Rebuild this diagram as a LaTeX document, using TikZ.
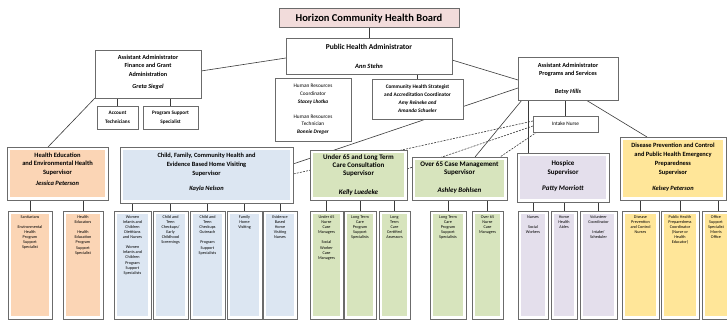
\documentclass[tikz,border=0pt]{standalone}
\usepackage{fontspec}
\setmainfont{Carlito}
\usetikzlibrary{calc}
\definecolor{bord}{HTML}{6B6B6B}
\definecolor{lnc}{HTML}{3A3A3A}
\definecolor{pinkF}{HTML}{F2DCDB}
\definecolor{oranF}{HTML}{FBD5B5}
\definecolor{blueF}{HTML}{DCE6F2}
\definecolor{greenF}{HTML}{D7E4BD}
\definecolor{lavF}{HTML}{E4DFEC}
\definecolor{yellF}{HTML}{FFE699}
\pgfdeclarelayer{back}
\pgfdeclarelayer{bg}
\pgfsetlayers{back,bg,main}
\newcommand\fsz[2]{\fontsize{#1}{#2}\selectfont}
\newcommand\mkbox[6]{\node[#6, anchor=north west, minimum width={#4pt-#2pt}, minimum height={#5pt-#3pt}] (#1) at (#2,#3) {};}
\newcommand\mktxt[5]{\node[txt, anchor=north, font=#4] (#1) at (#2,#3) {#5};}
\tikzset{
 frame/.style={draw=bord, line width=0.8pt, fill=white, inner sep=0pt, outer sep=0pt},
 inset/.style={frame, path picture={\fill[#1] ([xshift=3pt,yshift=-3pt]path picture bounding box.north west) rectangle ([xshift=-3pt,yshift=3pt]path picture bounding box.south east);}},
 conn/.style={draw=lnc, line width=0.6pt},
 dconn/.style={conn, dash pattern=on 2pt off 1.2pt},
 txt/.style={inner sep=0pt, align=center, text=black},
 ctext/.style={txt, font=\fsz{4.2}{5.1}},
}
\begin{document}
\begin{tikzpicture}[x=1pt,y=-1pt]
\useasboundingbox (0,0) rectangle (727,320);
\begin{pgfonlayer}{back}
\fill[white] (0,0) rectangle (727,320);
\end{pgfonlayer}
% ---------- top level ----------
\mkbox{board}{279}{8}{459}{27}{frame, fill=pinkF}
\node[txt, anchor=base, font=\fsz{10.5}{12}\bfseries] (boardT) at (369,21.5) {Horizon Community Health Board};
\mkbox{pha}{286}{38}{452}{74}{frame}
\node[txt, anchor=base, font=\fsz{7.5}{9}\bfseries] (phaT) at (369,49.5) {Public Health Administrator};
\node[txt, anchor=base, font=\fsz{6.5}{8}\bfseries\itshape] (phaN) at (369,68.5) {Ann Stehn};
\mkbox{fin}{95}{50}{201}{98}{frame}
\mktxt{finT}{148}{54.5}{\fsz{6.2}{8.7}\bfseries}{Assistant Administrator\\Finance and Grant\\Administration\\[3.3pt]\textit{Greta Siegel}}
\mkbox{acct}{97}{106}{138}{129}{frame}
\mktxt{acctT}{117.5}{111}{\fsz{5.2}{8.5}\bfseries}{Account\\Technicians}
\mkbox{pss}{143}{106}{198}{129}{frame}
\mktxt{pssT}{170.5}{111}{\fsz{5.2}{8.5}\bfseries}{Program Support\\Specialist}
\mkbox{hr}{275}{78}{351}{141}{frame}
\mktxt{hrT}{313}{84}{\fsz{5.3}{7.8}}{Human Resources\\Coordinator\\\textbf{\textit{Stacey Lhotka}}\\[7.2pt]Human Resources\\Technician\\\textbf{\textit{Bonnie Dreger}}}
\mkbox{chs}{372}{79}{463}{119}{frame}
\mktxt{chsT}{417.5}{85}{\fsz{5.3}{7.7}\bfseries}{Community Health Strategist\\and Accreditation Coordinator\\\textit{Amy Reineke and}\\\textit{Amanda Schueler}}
\mkbox{betsy}{518}{57}{618}{100}{frame}
\mktxt{betsyT}{568}{62.5}{\fsz{6.2}{8.3}\bfseries}{Assistant Administrator\\Programs and Services\\[9.7pt]\textit{Betsy Hills}}
\mkbox{intake}{533}{116}{598}{132}{frame}
\node[txt, anchor=base, font=\fsz{5.3}{6}] (intakeT) at (565.5,125.8) {Intake Nurse};
% ---------- supervisors ----------
\mkbox{he}{7}{147}{108}{200}{inset=oranF}
\mktxt{heT}{57.5}{152.4}{\fsz{6.5}{8.5}\bfseries}{Health Education\\and Environmental Health\\Supervisor\\[2.5pt]\textit{Jessica Peterson}}
\mkbox{cf}{120}{147}{293}{203}{inset=blueF}
\mktxt{cfT}{206.5}{152.5}{\fsz{6.4}{9}\bfseries}{Child, Family, Community Health and\\Evidence Based Home Visiting\\Supervisor\\[6pt]\textit{Kayla Nelson}}
\mkbox{u65}{310}{150}{407}{200}{inset=greenF}
\mktxt{u65T}{358.5}{154.2}{\fsz{7}{8}\bfseries}{Under 65 and Long Term\\Care Consultation\\Supervisor\\[11pt]\textit{Kelly Luedeke}}
\mkbox{ov}{412}{157}{507}{200}{inset=greenF}
\mktxt{ovT}{459.5}{161.2}{\fsz{7}{8}\bfseries}{Over 65 Case Management\\Supervisor\\[10pt]\textit{Ashley Bohlsen}}
\mkbox{hos}{517}{153}{609}{202}{inset=lavF}
\mktxt{hosT}{563}{160.2}{\fsz{7}{9}\bfseries}{Hospice\\Supervisor\\[7pt]\textit{Patty Morriott}}
\mkbox{dis}{620}{137}{726}{200}{inset=yellF}
\mktxt{disT}{673}{142.4}{\fsz{6.4}{9}\bfseries}{Disease Prevention and Control\\and Public Health Emergency\\Preparedness\\Supervisor\\[7pt]\textit{Kelsey Peterson}}
% ---------- front-line boxes ----------
\mkbox{c1}{8}{211}{52}{319}{inset=oranF}
\node[ctext, anchor=north] (t1) at (30,215.3) {Sanitarians\\[5.1pt]Environmental\\Health\\Program\\Support\\Specialist};
\mkbox{c2}{63}{211}{103}{319}{inset=oranF}
\node[ctext, anchor=north] (t2) at (83,215.3) {Health\\Educators\\[5.1pt]Health\\Education\\Program\\Support\\Specialist};
\mkbox{c3}{114}{211}{151}{319}{inset=blueF}
\node[ctext, anchor=north] (t3) at (132.5,215.3) {Women\\Infants and\\Children\\Dietitians\\and Nurses\\[5.1pt]Women\\Infants and\\Children\\Program\\Support\\Specialists};
\mkbox{c4}{153}{211}{188}{319}{inset=blueF}
\node[ctext, anchor=north] (t4) at (170.5,215.3) {Child and\\Teen\\Checkups/\\Early\\Childhood\\Screenings};
\mkbox{c5}{190}{211}{225}{319}{inset=blueF}
\node[ctext, anchor=north] (t5) at (207.5,215.3) {Child and\\Teen\\Checkups\\Outreach\\[5.1pt]Program\\Support\\Specialists};
\mkbox{c6}{227}{211}{262}{319}{inset=blueF}
\node[ctext, anchor=north] (t6) at (244.5,215.3) {Family\\Home\\Visiting};
\mkbox{c7}{263}{211}{297}{319}{inset=blueF}
\node[ctext, anchor=north] (t7) at (280,215.3) {Evidence\\Based\\Home\\Visiting\\Nurses};
\mkbox{c8}{310}{211}{343}{319}{inset=greenF}
\node[ctext, anchor=north] (t8) at (326.5,215.3) {Under 65\\Nurse\\Case\\Managers\\[5.1pt]Social\\Worker\\Case\\Managers};
\mkbox{c9}{344}{211}{376}{319}{inset=greenF}
\node[ctext, anchor=north] (t9) at (360,215.3) {Long Term\\Care\\Program\\Support\\Specialists};
\mkbox{c10}{379}{211}{410}{319}{inset=greenF}
\node[ctext, anchor=north] (t10) at (394.5,215.3) {Long\\Term\\Care\\Certified\\Assessors};
\mkbox{c11}{430}{211}{466}{319}{inset=greenF}
\node[ctext, anchor=north] (t11) at (448,215.3) {Long Term\\Care\\Program\\Support\\Specialists};
\mkbox{c12}{472}{211}{503}{319}{inset=greenF}
\node[ctext, anchor=north] (t12) at (487.5,215.3) {Over 65\\Nurse\\Case\\Managers};
\mkbox{c13}{518}{211}{548}{319}{inset=lavF}
\node[ctext, anchor=north] (t13) at (533,215.3) {Nurses\\[5.1pt]Social\\Workers};
\mkbox{c14}{551}{211}{577}{319}{inset=lavF}
\node[ctext, anchor=north] (t14) at (564,215.3) {Home\\Health\\Aides};
\mkbox{c15}{580}{211}{617}{319}{inset=lavF}
\node[ctext, anchor=north] (t15) at (598.5,215.3) {Volunteer\\Coordinator\\[5.1pt]Intake/\\Scheduler};
\mkbox{c16}{622}{211}{659}{319}{inset=yellF}
\node[ctext, anchor=north] (t16) at (640.5,215.3) {Disease\\Prevention\\and Control\\Nurses};
\mkbox{c17}{661}{211}{699}{319}{inset=yellF}
\node[ctext, anchor=north] (t17) at (680,215.3) {Public Health\\Preparedness\\Coordinator\\(Nurse or\\Health\\Educator)};
\mkbox{c18}{702}{211}{734}{319}{inset=yellF}
\node[ctext, anchor=north] (t18) at (716,215.3) {Office\\Support\\Specialist\\Morris\\Office};
% ---------- connectors ----------
\begin{pgfonlayer}{bg}
\draw[conn] (board.south) -- (pha.north);
\draw[conn] ($(pha.north west)+(0,20)$) -- ($(fin.north east)+(0,21)$);
\draw[conn] ($(pha.north east)+(0,22)$) -- ($(betsy.north west)+(0,23)$);
\draw[conn] (chs.north) -- (chs.north |- pha.south);
\draw[conn] (fin.south west) -- ($(he.north west)+(41,0)$);
\draw[conn] (acct.north) -- (acct.north |- fin.south);
\draw[conn] (pss.north) -- (pss.north |- fin.south);
\draw[conn] (intake.north) -- (intake.north |- betsy.south);
\draw[conn] ($(betsy.north west)+(0,31)$) -- ($(cf.north east)+(0,17)$);
\draw[conn] ($(betsy.south west)+(4,0)$) -- ($(ov.north west)+(63,0)$);
\coordinate (bh) at ($(betsy.south west)+(10,0)$);
\draw[conn] (bh) -- (bh |- hos.north);
\draw[conn] ($(betsy.south east)+(-32,0)$) -- ($(dis.north west)+(27,0)$);
\draw[dconn] ($(intake.north west)+(0,5)$) -- ($(cf.north east)+(0,27)$);
\draw[dconn] ($(intake.north west)+(0,10)$) -- ($(u65.north east)+(0,19)$);
\draw[dconn] ($(intake.south west)+(4,0)$) -- ($(ov.north east)+(-7,0)$);
\foreach \c in {c1,c2}{\draw[conn] (\c.north) -- (\c.north |- he.south);}
\foreach \c in {c3,c4,c5,c6,c7}{\draw[conn] (\c.north) -- (\c.north |- cf.south);}
\foreach \c in {c8,c9,c10}{\draw[conn] (\c.north) -- (\c.north |- u65.south);}
\foreach \c in {c11,c12}{\draw[conn] (\c.north) -- (\c.north |- ov.south);}
\foreach \c in {c13,c14,c15}{\draw[conn] (\c.north) -- (\c.north |- hos.south);}
\foreach \c in {c16,c17,c18}{\draw[conn] (\c.north) -- (\c.north |- dis.south);}
\end{pgfonlayer}
\end{tikzpicture}
\end{document}
